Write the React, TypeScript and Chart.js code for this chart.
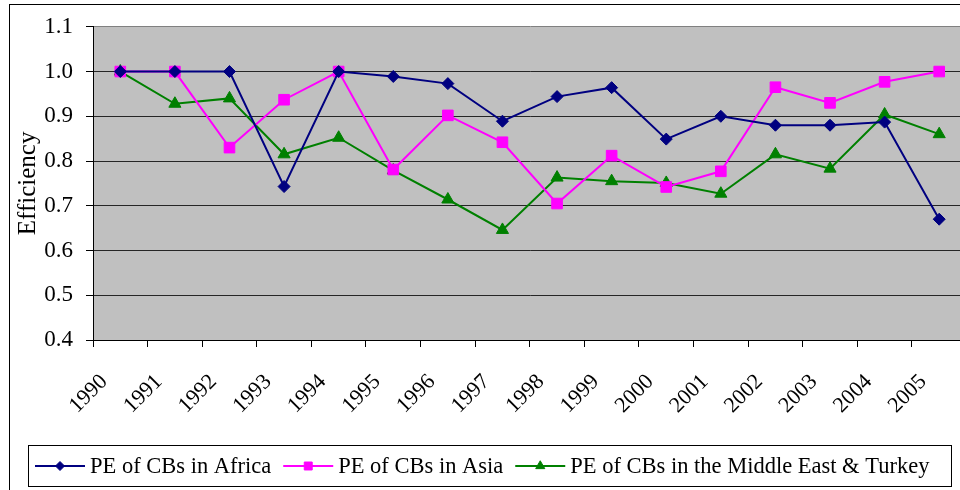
import React, { useEffect, useRef } from 'react';
import { Chart, registerables } from 'chart.js';
import { drawPoint } from 'chart.js/helpers';

Chart.register(...registerables);

const years = ['1990', '1991', '1992', '1993', '1994', '1995', '1996', '1997', '1998', '1999', '2000', '2001', '2002', '2003', '2004', '2005'];
const africa = [1.0, 1.0, 1.0, 0.743, 1.0, 0.989, 0.973, 0.889, 0.944, 0.964, 0.849, 0.9, 0.88, 0.88, 0.887, 0.67];
const asia = [1.0, 1.0, 0.83, 0.937, 1.0, 0.781, 0.902, 0.842, 0.705, 0.812, 0.742, 0.777, 0.965, 0.93, 0.977, 1.0];
const middleEast = [1.0, 0.928, 0.94, 0.815, 0.852, 0.779, 0.714, 0.646, 0.763, 0.755, 0.751, 0.727, 0.815, 0.783, 0.904, 0.86];
const seriesLabels = ['PE of CBs in Africa', 'PE of CBs in Asia', 'PE of CBs in the Middle East & Turkey'];
const yMin = 0.4;
const yMax = 1.1;
const yStep = 0.1;
const yTitle = 'Efficiency';

const SERIF = "'Liberation Serif', 'Times New Roman', serif";

const bgPlugin = {
  id: 'bgPlugin',
  beforeDraw(chart: any) {
    const { ctx, chartArea } = chart;
    ctx.save();
    ctx.fillStyle = '#c0c0c0';
    ctx.fillRect(chartArea.left, chartArea.top, chartArea.right - chartArea.left, chartArea.bottom - chartArea.top);
    ctx.restore();
  },
};

const frameLegendPlugin = {
  id: 'frameLegendPlugin',
  afterDraw(chart: any) {
    const { ctx } = chart;
    ctx.save();
    // outer chart border
    ctx.strokeStyle = '#000';
    ctx.lineWidth = 1;
    ctx.strokeRect(9.5, 4.5, 3000, 3000);
    // legend box
    ctx.strokeRect(28.5, 445.5, 923, 41);
    ctx.font = `22.5px ${SERIF}`;
    ctx.textBaseline = 'middle';
    ctx.fillStyle = '#000';
    const y = 466;
    let x = 35;
    chart.data.datasets.forEach((ds: any) => {
      const lineLen = 50;
      ctx.strokeStyle = ds.borderColor;
      ctx.lineWidth = 2;
      ctx.beginPath();
      ctx.moveTo(x, y);
      ctx.lineTo(x + lineLen, y);
      ctx.stroke();
      ctx.fillStyle = ds.pointBackgroundColor;
      ctx.strokeStyle = ds.pointBorderColor;
      ctx.lineWidth = 1;
      drawPoint(ctx, { pointStyle: ds.pointStyle, radius: ds.pointRadius * 0.75, rotation: 0, borderWidth: 1 }, x + lineLen / 2, y);
      ctx.fillStyle = '#000';
      ctx.textAlign = 'left';
      const tx = x + lineLen + 5;
      ctx.fillText(ds.label, tx, y + 1);
      x = tx + ctx.measureText(ds.label).width + 12;
    });
    ctx.restore();
  },
};

export default function App() {
  const canvasRef = useRef<HTMLCanvasElement | null>(null);

  useEffect(() => {
    document.body.style.margin = '0';
    document.body.style.overflow = 'hidden';
    document.documentElement.style.overflow = 'hidden';
    const canvas = canvasRef.current;
    if (!canvas) return;
    const mk = (label: string, data: number[], color: string, pointStyle: string, radius: number) => ({
      label,
      data,
      borderColor: color,
      backgroundColor: color,
      pointBackgroundColor: color,
      pointBorderColor: color,
      pointStyle,
      pointRadius: radius,
      pointBorderWidth: 1,
      borderWidth: 2,
      tension: 0,
      fill: false,
    });
    const chart = new Chart(canvas, {
      type: 'line',
      data: {
        labels: years,
        datasets: [
          mk(seriesLabels[0], africa, '#000080', 'rectRot', 6),
          mk(seriesLabels[1], asia, '#ff00ff', 'rect', 7.5),
          mk(seriesLabels[2], middleEast, '#008000', 'triangle', 7),
        ],
      },
      options: {
        responsive: false,
        animation: false,
        devicePixelRatio: 1,
        layout: { padding: { left: 0, top: 26, right: 8, bottom: 0 } },
        plugins: {
          legend: { display: false },
          tooltip: { enabled: false },
        },
        scales: {
          x: {
            type: 'category',
            offset: true,
            afterFit(scale: any) {
              scale.height = 150;
              scale.paddingLeft = 0;
              scale.paddingRight = 0;
            },
            grid: {
              offset: true,
              drawOnChartArea: false,
              drawTicks: true,
              tickLength: 7,
              color: '#000',
            },
            border: { display: true, color: '#000', width: 1 },
            ticks: {
              font: { family: SERIF, size: 22 },
              color: '#000',
              minRotation: 45,
              maxRotation: 45,
              autoSkip: false,
              padding: 22,
              labelOffset: -16,
            },
          },
          y: {
            min: yMin,
            max: yMax,
            afterFit(scale: any) {
              scale.width = 93;
            },
            title: {
              display: true,
              text: yTitle,
              font: { family: SERIF, size: 25 },
              color: '#000',
              padding: { top: 13, bottom: 0 },
            },
            grid: {
              color: (c: any) => (c.tick && Math.abs(c.tick.value - yMax) < 1e-6 ? '#808080' : '#262626'),
              tickColor: '#000',
              tickLength: 7,
              drawTicks: true,
            },
            border: { display: true, color: '#000', width: 1 },
            ticks: {
              stepSize: yStep,
              font: { family: SERIF, size: 23 },
              color: '#000',
              padding: 13,
              callback: (v: any) => Number(v).toFixed(1),
            },
          },
        },
      },
      plugins: [bgPlugin, frameLegendPlugin],
    } as any);
    return () => chart.destroy();
  }, []);

  return (
    <div style={{ width: 975, height: 490 }}>
      <canvas ref={canvasRef} width={975} height={490} style={{ display: 'block', width: 975, height: 490 }} />
    </div>
  );
}
